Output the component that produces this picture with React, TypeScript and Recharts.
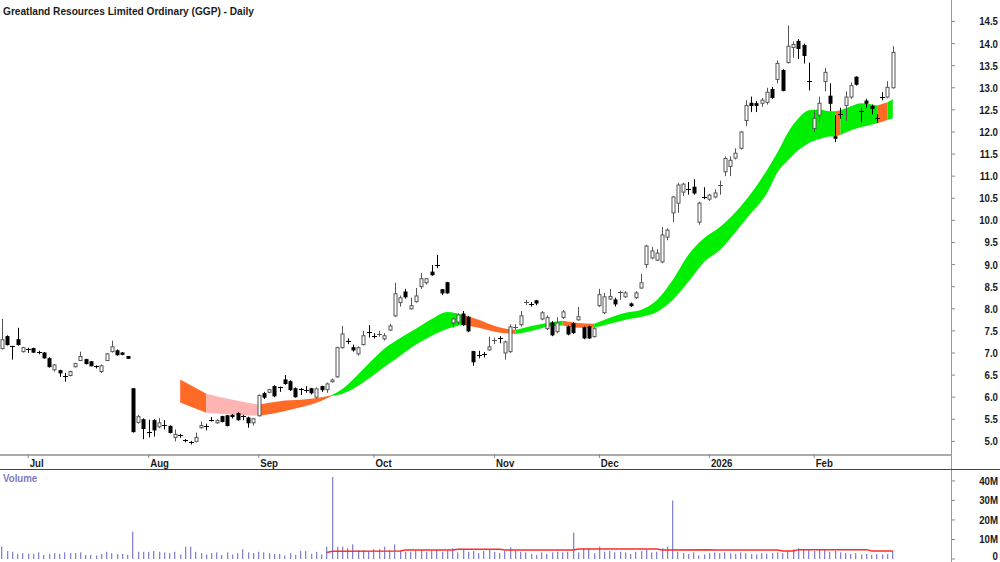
import React from 'react';
import { ComposedChart, Bar, Area, Line, XAxis, YAxis } from 'recharts';

const opens = [
  7.10,7.37,7.15,7.30,7.03,7.08,7.10,7.02,7.00,6.87,
  6.62,6.60,6.47,6.49,6.69,6.83,6.85,6.80,6.70,6.58,
  6.83,7.03,7.05,7.00,6.92,6.19,5.43,5.49,5.21,5.47,
  5.33,5.37,5.34,5.09,5.14,5.03,4.98,5.00,5.31,5.34,
  5.49,5.42,5.56,5.58,5.59,5.63,5.57,5.53,5.42,5.58,
  6.08,6.11,6.24,6.22,6.39,6.35,6.19,6.18,6.17,6.19,
  6.00,6.24,6.17,6.35,6.46,7.12,7.26,7.12,6.98,7.19,
  7.47,7.38,7.40,7.32,7.52,7.84,8.14,8.38,8.00,8.16,
  8.50,8.59,8.83,8.99,8.43,8.59,7.68,7.70,7.88,7.81,
  7.03,6.95,6.97,7.07,7.28,7.33,7.00,7.03,7.57,7.64,
  8.13,8.10,8.18,7.77,7.55,7.68,7.48,7.80,7.59,7.66,
  7.75,7.57,7.59,7.37,8.07,7.91,8.22,8.20,8.35,8.27,
  8.11,8.25,8.47,9.00,9.15,9.10,9.06,9.62,10.17,10.39,
  10.64,10.70,10.75,9.96,10.53,10.48,10.53,10.79,11.10,11.22,
  11.41,11.63,12.26,12.65,12.64,12.65,12.67,12.96,13.19,13.39,
  13.57,13.91,14.05,13.96,13.15,12.08,12.38,13.14,12.81,11.89,
  12.41,12.60,12.79,13.24,12.48,12.70,12.58,12.32,12.80,12.79,
  13.00,
];
const highs = [
  7.77,7.40,7.16,7.57,7.14,7.12,7.12,7.05,7.02,6.90,
  6.75,6.62,6.55,6.60,6.78,7.03,6.87,6.82,6.72,6.74,
  7.00,7.28,7.08,7.02,6.93,6.20,5.60,5.52,5.49,5.50,
  5.53,5.48,5.36,5.27,5.17,5.05,5.01,5.20,5.45,5.40,
  5.55,5.50,5.58,5.60,5.62,5.66,5.60,5.56,5.53,6.06,
  6.12,6.19,6.27,6.24,6.50,6.38,6.22,6.21,6.25,6.21,
  6.22,6.26,6.33,6.42,7.14,7.61,7.33,7.19,7.15,7.50,
  7.63,7.45,7.50,7.45,7.66,8.59,8.30,8.45,8.25,8.47,
  8.81,8.70,8.99,9.22,8.45,8.61,7.80,7.90,7.95,7.84,
  7.05,7.05,7.02,7.37,7.35,7.38,7.28,7.65,7.65,7.95,
  8.20,8.15,8.20,7.95,7.85,7.72,7.81,7.97,7.62,7.70,
  8.04,7.60,7.62,7.58,8.45,8.36,8.45,8.25,8.41,8.40,
  8.14,8.40,8.79,9.45,9.40,9.35,9.85,9.82,10.55,10.85,
  10.85,10.87,10.93,10.42,10.75,10.60,10.70,10.90,11.45,11.45,
  11.63,12.02,12.72,12.80,12.70,12.77,13.00,13.02,13.62,13.42,
  14.41,14.05,14.10,14.00,13.57,12.48,12.80,13.45,13.10,12.38,
  12.55,12.92,13.12,13.26,12.55,12.75,12.62,12.40,12.90,13.15,
  13.94,
];
const lows = [
  7.08,7.17,6.85,7.17,7.01,7.00,7.00,6.97,6.87,6.67,
  6.58,6.46,6.35,6.47,6.67,6.82,6.74,6.70,6.65,6.55,
  6.82,7.01,6.94,6.95,6.87,5.20,5.40,5.05,5.09,5.11,
  5.30,5.27,5.18,5.00,5.08,4.98,4.93,4.98,5.29,5.25,
  5.45,5.40,5.43,5.34,5.52,5.47,5.48,5.31,5.36,5.56,
  5.96,6.09,6.00,6.12,6.28,6.14,5.99,6.05,6.10,6.06,
  5.97,6.12,6.10,6.33,6.44,7.10,7.20,7.03,6.94,7.17,
  7.35,7.33,7.37,7.28,7.50,7.82,8.05,8.23,7.98,8.14,
  8.45,8.55,8.75,8.92,8.31,8.34,7.58,7.65,7.61,7.47,
  6.71,6.88,6.90,7.05,7.20,7.22,6.85,7.00,7.52,7.60,
  8.08,8.05,8.08,7.74,7.52,7.38,7.45,7.77,7.40,7.43,
  7.73,7.31,7.32,7.35,8.04,7.88,8.20,8.05,8.20,8.25,
  8.04,8.22,8.45,8.92,9.12,9.08,9.03,9.55,9.96,10.17,
  10.55,10.58,10.58,9.90,10.48,10.44,10.50,10.58,11.00,11.00,
  11.38,11.60,12.13,12.45,12.45,12.57,12.62,12.75,13.10,12.92,
  13.55,13.68,13.65,13.55,12.94,12.00,12.20,12.92,12.47,11.77,
  12.30,12.25,12.75,13.05,12.22,12.55,12.40,12.20,12.72,12.76,
  12.98,
];
const closes = [
  7.30,7.19,7.13,7.19,7.12,7.06,7.02,7.00,6.89,6.69,
  6.73,6.55,6.45,6.58,6.76,6.92,6.76,6.71,6.68,6.71,
  6.98,7.14,6.96,6.97,6.88,5.22,5.56,5.29,5.19,5.26,
  5.42,5.35,5.20,5.16,5.12,5.01,4.96,5.09,5.36,5.33,
  5.48,5.47,5.45,5.36,5.56,5.49,5.55,5.42,5.51,6.04,
  6.00,6.17,6.03,6.20,6.31,6.17,6.01,6.16,6.16,6.10,
  6.19,6.17,6.30,6.39,7.12,7.43,7.24,7.07,7.12,7.39,
  7.45,7.36,7.42,7.39,7.61,8.34,8.25,8.27,8.07,8.29,
  8.68,8.68,8.77,8.97,8.36,8.36,7.77,7.86,7.64,7.50,
  6.80,6.93,6.95,7.14,7.29,7.31,7.25,7.59,7.58,7.84,
  8.15,8.08,8.13,7.91,7.80,7.41,7.68,7.93,7.43,7.46,
  7.82,7.34,7.34,7.55,8.32,8.27,8.28,8.11,8.37,8.36,
  8.07,8.36,8.59,9.42,9.31,9.26,9.67,9.78,10.53,10.80,
  10.82,10.68,10.62,10.39,10.52,10.57,10.62,10.80,11.40,11.36,
  11.52,12.00,12.60,12.60,12.60,12.72,12.90,12.78,13.55,12.94,
  13.94,13.98,13.89,13.73,13.13,12.31,12.65,13.35,12.65,11.86,
  12.39,12.79,13.05,13.08,12.46,12.65,12.53,12.30,12.78,13.01,
  13.80,
];
// volume in millions
const volumes = [
  6.3,4.1,3.7,2.6,3.0,2.7,2.6,3.4,2.1,2.6,
  3.0,2.6,3.4,3.0,3.0,3.4,2.1,2.1,1.8,2.6,
  3.7,3.0,2.6,2.6,2.1,14.0,3.7,3.7,3.7,4.1,
  3.7,3.4,3.0,3.7,2.3,6.3,6.3,3.7,3.0,2.3,
  3.0,3.4,2.1,3.4,2.3,3.0,5.0,3.4,3.0,3.7,
  3.4,3.0,2.6,2.6,1.8,3.0,2.1,4.1,4.1,2.7,
  3.7,2.3,6.3,42.0,6.3,6.3,5.5,7.5,4.6,4.6,
  4.1,5.0,5.0,6.3,4.6,7.5,4.1,3.7,3.7,4.1,
  4.6,3.7,4.1,4.6,3.7,4.1,5.5,3.4,4.6,3.7,
  4.1,3.0,4.1,4.6,3.7,3.0,4.1,6.0,4.1,3.7,
  3.4,2.6,2.1,3.4,2.6,3.4,3.7,3.4,3.7,13.5,
  3.4,5.5,5.5,3.0,6.3,3.7,4.1,3.4,3.7,3.4,
  2.6,3.7,4.1,4.6,3.4,3.7,5.5,6.3,30.0,3.7,
  3.0,2.6,3.4,1.8,2.3,3.0,3.4,3.0,3.4,3.0,
  2.6,3.4,3.0,2.6,2.3,3.0,2.6,3.0,3.4,3.0,
  4.1,5.0,5.5,5.0,4.6,4.1,5.0,4.6,3.7,4.1,
  3.4,3.0,2.6,3.0,2.3,2.6,2.1,2.6,2.3,2.6,
  4.1,
];

// moving-average ribbon (key points)
const bandIdx = [34,39,44,49,53,57,61,63,65,67,70,73,76,79,82,85,88,91,94,98,101,104,107,110,113,116,119,122,125,128,131,134,137,140,143,146,148,150,152,154,156,158,159,160,162,164,167,169,170];
const bandTop = [6.40,6.08,5.94,5.83,5.91,5.94,6.00,6.05,6.19,6.40,6.76,7.10,7.34,7.55,7.77,7.93,7.86,7.75,7.61,7.52,7.61,7.68,7.73,7.68,7.66,7.80,7.91,7.98,8.20,8.65,9.22,9.60,9.85,10.19,10.62,11.14,11.54,11.99,12.31,12.49,12.51,12.47,12.47,12.49,12.58,12.65,12.60,12.67,12.74];
const bandBot = [5.88,5.65,5.61,5.58,5.66,5.77,5.92,6.03,6.08,6.19,6.42,6.69,6.94,7.19,7.39,7.55,7.64,7.57,7.48,7.43,7.50,7.59,7.62,7.57,7.57,7.66,7.75,7.82,7.93,8.20,8.61,9.06,9.33,9.74,10.17,10.62,11.09,11.36,11.59,11.75,11.84,11.90,11.90,11.93,12.04,12.11,12.20,12.27,12.31];

const GREEN = '#00ee00';
const ORANGE = '#ff6a26';
const PINK = '#ffb4b4';
const segFrom = [34,39,49,63,88,98,107,113,159,160,167,169];
const segTo = [39,49,63,88,98,107,113,159,160,167,169,170];
const segColor = [ORANGE,PINK,ORANGE,GREEN,ORANGE,GREEN,ORANGE,GREEN,ORANGE,GREEN,ORANGE,GREEN];

// volume moving average (millions, key points)
const vmaIdx = [62,63,76,77,86,87,95,96,109,110,125,126,135,136,148,149,151,152,165,166,170];
const vmaVal = [3.3,4.0,4.1,4.6,4.6,5.0,5.0,4.6,4.6,5.1,5.1,4.6,4.8,4.6,4.6,4.1,4.1,4.8,4.8,4.1,4.1];

const monthTicks = [5,28,49,71,94,114,135,155];
const monthLabels = ['Jul','Aug','Sep','Oct','Nov','Dec','2026','Feb'];
const priceTicks = [5.0,5.5,6.0,6.5,7.0,7.5,8.0,8.5,9.0,9.5,10.0,10.5,11.0,11.5,12.0,12.5,13.0,13.5,14.0,14.5];
const volTicks = [0,10,20,30,40];
const volLabels = ['0','10M','20M','30M','40M'];

const data: any[] = opens.map((o, i) => ({ idx: i, o, h: highs[i], l: lows[i], c: closes[i], vol: volumes[i] }));
bandIdx.forEach((bi, k) => { data[bi].bt = bandTop[k]; data[bi].bb = bandBot[k]; });
vmaIdx.forEach((vi, k) => { data[vi].vma = vmaVal[k]; });

const X_DOMAIN: [number, number] = [-0.382, 181.107];
const FONT = '"Liberation Sans", Arial, sans-serif';

const Candle = (props: any) => {
  const { x, y, width, height, payload } = props;
  if (x == null || payload == null || y == null) return null;
  const cx = Math.floor(x + width / 2) + 0.5;
  const top = Math.min(y, y + height);
  const bot = Math.max(y, y + height);
  const { o, h, l, c } = payload;
  const ppu = h > l ? (bot - top) / (h - l) : 0;
  const yO = top + (h - o) * ppu;
  const yC = top + (h - c) * ppu;
  const up = c >= o;
  const col = up ? '#555' : '#000';
  const bt = Math.min(yO, yC);
  const bh = Math.abs(yO - yC);
  return (
    <g>
      <line x1={cx} x2={cx} y1={top} y2={bot} stroke={col} strokeWidth={1} />
      {bh < 1.3 ? (
        <line x1={cx - 2.5} x2={cx + 2.5} y1={Math.round(bt) + 0.5} y2={Math.round(bt) + 0.5} stroke={col} strokeWidth={1} />
      ) : (
        <rect x={cx - 1.5} y={bt} width={3} height={bh} fill={up ? '#fff' : '#000'} stroke={col} strokeWidth={1} />
      )}
    </g>
  );
};

const VolBar = (props: any) => {
  const { x, y, width, height } = props;
  if (x == null || y == null) return null;
  const cx = Math.floor(x + width / 2);
  const top = Math.min(y, y + height);
  const h = Math.abs(height);
  return <rect x={cx} y={top} width={1.3} height={h} fill="#8585cc" />;
};

const MonthTick = (props: any) => {
  const { x, payload } = props;
  const i = monthTicks.indexOf(payload.value);
  return (
    <g>
      <line x1={x} x2={x} y1={454} y2={458} stroke="#888" strokeWidth={1} />
      <text transform={`translate(${x + 1.5},467) scale(0.88,1)`} fontFamily={FONT} fontSize={11} fontWeight="bold" fill="#1a1a1a">
        {i >= 0 ? monthLabels[i] : ''}
      </text>
    </g>
  );
};

const PriceTick = (props: any) => {
  const { y, payload } = props;
  return (
    <text transform={`translate(998,${y + 4}) scale(0.88,1)`} textAnchor="end" fontFamily={FONT} fontSize={11} fontWeight="bold" fill="#1a1a1a">
      {Number(payload.value).toFixed(1)}
    </text>
  );
};

const VolTick = (props: any) => {
  const { y, payload } = props;
  const i = volTicks.indexOf(payload.value);
  const base = Math.min(y + 4, 94 - 4);
  return (
    <text transform={`translate(998,${base}) scale(0.88,1)`} textAnchor="end" fontFamily={FONT} fontSize={11} fontWeight="bold" fill="#1a1a1a">
      {i >= 0 ? volLabels[i] : ''}
    </text>
  );
};

export default function App() {
  return (
    <div style={{ position: 'absolute', left: 0, top: 0, width: 1000, height: 562, background: '#fff', overflow: 'hidden' }}>
      <div style={{ position: 'absolute', left: 0, top: 0 }}>
        <ComposedChart width={1000} height={470} data={data} margin={{ top: 0, right: 0, bottom: 0, left: 0 }}>
          <XAxis
            dataKey="idx"
            type="number"
            domain={X_DOMAIN}
            allowDataOverflow
            ticks={monthTicks}
            interval={0}
            height={15}
            axisLine={{ stroke: '#aaaaaa', strokeWidth: 2 }}
            tickLine={false}
            tick={<MonthTick />}
          />
          <YAxis
            orientation="right"
            width={49}
            domain={[4.692, 14.986]}
            allowDataOverflow
            ticks={priceTicks}
            interval={0}
            axisLine={false}
            tickSize={4}
            tickLine={{ stroke: '#888' }}
            tick={<PriceTick />}
          />
          {segFrom.map((f, k) => (
            <Area
              key={'seg' + k}
              dataKey={(d: any) => (d.idx >= f && d.idx <= segTo[k] && d.bt != null ? [d.bb, d.bt] : null)}
              type="monotone"
              stroke="none"
              fill={segColor[k]}
              fillOpacity={1}
              connectNulls
              dot={false}
              activeDot={false}
              isAnimationActive={false}
            />
          ))}
          <Bar dataKey={(d: any) => [d.l, d.h]} barSize={4} shape={<Candle />} isAnimationActive={false} />
        </ComposedChart>
      </div>
      <div style={{ position: 'absolute', left: 0, top: 470 }}>
        <ComposedChart width={1000} height={92} data={data} margin={{ top: 0, right: 0, bottom: 3, left: 0 }}>
          <XAxis dataKey="idx" type="number" domain={X_DOMAIN} allowDataOverflow hide />
          <YAxis
            orientation="right"
            width={49}
            domain={[0, 45.6]}
            allowDataOverflow
            ticks={volTicks}
            interval={0}
            axisLine={false}
            tickSize={4}
            tickLine={{ stroke: '#888' }}
            tick={<VolTick />}
          />
          <Bar dataKey="vol" barSize={1} shape={<VolBar />} isAnimationActive={false} />
          <Line dataKey="vma" type="linear" stroke="#ff2a2a" strokeWidth={1.5} dot={false} activeDot={false} connectNulls isAnimationActive={false} />
        </ComposedChart>
      </div>
      <svg width={1000} height={562} style={{ position: 'absolute', left: 0, top: 0, pointerEvents: 'none' }}>
        <line x1={951.5} x2={951.5} y1={0} y2={562} stroke="#999" strokeWidth={1} />
        <line x1={0} x2={1000} y1={469.5} y2={469.5} stroke="#444" strokeWidth={1} />
        <text x={3} y={15} fontFamily={FONT} fontSize={11.5} fontWeight="bold" fill="#1a1a1a" textLength={251} lengthAdjust="spacingAndGlyphs">
          Greatland Resources Limited Ordinary (GGP) - Daily
        </text>
        <text transform="translate(3,482) scale(0.88,1)" fontFamily={FONT} fontSize={11} fontWeight="bold" fill="#7b7bbd">
          Volume
        </text>
      </svg>
    </div>
  );
}
